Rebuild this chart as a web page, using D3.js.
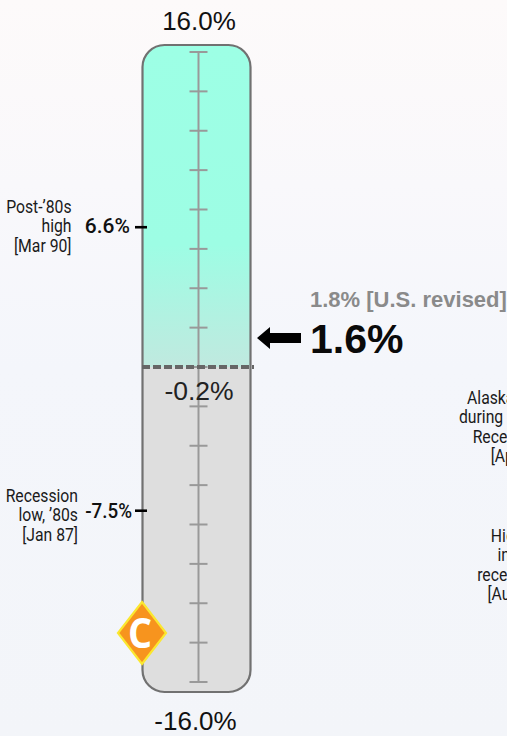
<!DOCTYPE html>
<html><head><meta charset="utf-8">
<script src="https://cdn.jsdelivr.net/npm/d3@7"></script>
<style>html,body{margin:0;padding:0;overflow:hidden;background:#f4f6fb}svg{display:block}</style>
</head><body><svg id="c" width="507" height="736"></svg>
<script>
// Data
const domainEnds = [-16, 16];
const tickValues = d3.range(-16, 17, 2);
const zeroLineLabel = "-0.2%";
const topLabel = "16.0%";
const bottomLabel = "-16.0%";
const currentValue = 1.6;
const currentLabel = "1.6%";
const revisedLabel = "1.8% [U.S. revised]";
const markerValues = [7.1, -7.3];
const markerLabels = ["6.6%", "-7.5%"];
const markerNotes = [["Post-\u201980s","high","[Mar 90]"],["Recession","low, \u201980s","[Jan 87]"]];
const rightNotes = [["Alaska low,","during Great","Recession","[Apr 09]"],["Highest","in post","recession","[Aug 11]"]];
const gradeLetter = "C";

const W=507,H=736;
const svg=d3.select("#c");
const y=d3.scaleLinear().domain(domainEnds).range([682,52]);
const body={x:142.5,w:108,top:45,bottom:692,r:22};
const axisX=198.5;
const defs=svg.append("defs");
const bg=defs.append("linearGradient").attr("id","bg").attr("x1",0).attr("x2",0).attr("y1",0).attr("y2",1);
[[0,"#fdfafa"],[0.25,"#f9f8fb"],[0.5,"#f4f6fb"],[1,"#f3f5f9"]].forEach(s=>bg.append("stop").attr("offset",s[0]).attr("stop-color",s[1]));
const up=defs.append("linearGradient").attr("id","up").attr("x1",0).attr("x2",0).attr("y1",0).attr("y2",1);
[[0,"#9dffe5"],[0.62,"#9dfde4"],[1,"#c0e9df"]].forEach(s=>up.append("stop").attr("offset",s[0]).attr("stop-color",s[1]));
defs.append("clipPath").attr("id","bodyClip").append("rect").attr("x",body.x).attr("y",body.top).attr("width",body.w).attr("height",body.bottom-body.top).attr("rx",body.r);

svg.append("rect").attr("width",W).attr("height",H).attr("fill","url(#bg)");
const g=svg.append("g").attr("clip-path","url(#bodyClip)");
g.append("rect").attr("x",body.x).attr("y",body.top).attr("width",body.w).attr("height",y(0)-body.top).attr("fill","url(#up)");
g.append("rect").attr("x",body.x).attr("y",y(0)).attr("width",body.w).attr("height",body.bottom-y(0)).attr("fill","#dedede");
svg.append("rect").attr("x",body.x).attr("y",body.top).attr("width",body.w).attr("height",body.bottom-body.top).attr("rx",body.r).attr("fill","none").attr("stroke","#717171").attr("stroke-width",2.2);

// scale ruler
svg.append("line").attr("x1",axisX).attr("x2",axisX).attr("y1",y(16)).attr("y2",y(-16)).attr("stroke","#999").attr("stroke-width",2);
svg.selectAll(".t").data(tickValues).join("line").attr("x1",axisX-9).attr("x2",axisX+9).attr("y1",d=>y(d)).attr("y2",d=>y(d)).attr("stroke","#999").attr("stroke-width",2);

svg.append("line").attr("x1",142).attr("x2",254).attr("y1",y(0)).attr("y2",y(0)).attr("stroke","#666").attr("stroke-width",4).attr("stroke-dasharray","8 3");

const arial="'Liberation Sans',Arial,sans-serif";
function t(x,yy,s,size,anchor,opt={}){return svg.append("text").attr("x",x).attr("y",yy).attr("text-anchor",anchor).attr("font-family",opt.font||arial).attr("font-size",size).attr("font-weight",opt.weight||400).attr("fill",opt.fill||"#111").text(s);}
t(199,29.5,topLabel,26,"middle");
t(195.5,730,bottomLabel,26,"middle");
t(199,400,zeroLineLabel,26.5,"middle",{fill:"#222"});

// current value arrow
const ay=y(currentValue)+2.5;
svg.append("path").attr("d",d3.line()([[257,ay],[270,ay-11],[270,ay-5],[301,ay-5],[301,ay+5],[270,ay+5],[270,ay+11]])+"Z").attr("fill","#000");
t(310,353,currentLabel,41,"start",{weight:700,fill:"#0a0a0a"});
t(310,307,revisedLabel,22,"start",{weight:700,fill:"#8a8a8a"});

// condensed note text
function note(lines,xr,yTop){
  lines.forEach((l,i)=>{
    svg.append("text").attr("transform",`translate(${xr},${yTop+i*19.3}) scale(0.9,1)`).attr("text-anchor","end")
      .attr("font-family","Roboto,sans-serif").attr("font-size",17.5).attr("fill","#1a1a1a").text(l);
  });
}
const markerXR=[71.5,78];
const labelXR=[130,132];
const labelYOff=[5.5,7];
const labelScale=[1.05,0.94];
const noteTop=[213,502];
markerValues.forEach((v,i)=>{
  const my=y(v);
  svg.append("line").attr("x1",135).attr("x2",147).attr("y1",my).attr("y2",my).attr("stroke","#000").attr("stroke-width",2.6);
  svg.append("text").attr("transform",`translate(${labelXR[i]},${my+labelYOff[i]}) scale(${labelScale[i]},1)`).attr("text-anchor","end")
    .attr("font-family","Roboto,sans-serif").attr("font-weight",500).attr("font-size",20).attr("fill","#111").text(markerLabels[i]);
  note(markerNotes[i],markerXR[i],noteTop[i]);
});
note(rightNotes[0],545,404);
note(rightNotes[1],545,542);

// grade badge
const cx=142,cy=633;
svg.append("path").attr("d",d3.line()([[cx,cy-31],[cx+24,cy],[cx,cy+31],[cx-24,cy]])+"Z").attr("fill","#f7941e").attr("stroke","#fbe72f").attr("stroke-width",2.2);
svg.append("text").attr("transform",`translate(${cx-2},${cy+15}) scale(0.9,1)`).attr("text-anchor","middle").attr("font-family","'Open Sans',sans-serif").attr("font-weight",700).attr("font-size",42).attr("fill","#fff").text(gradeLetter);
</script></body></html>
